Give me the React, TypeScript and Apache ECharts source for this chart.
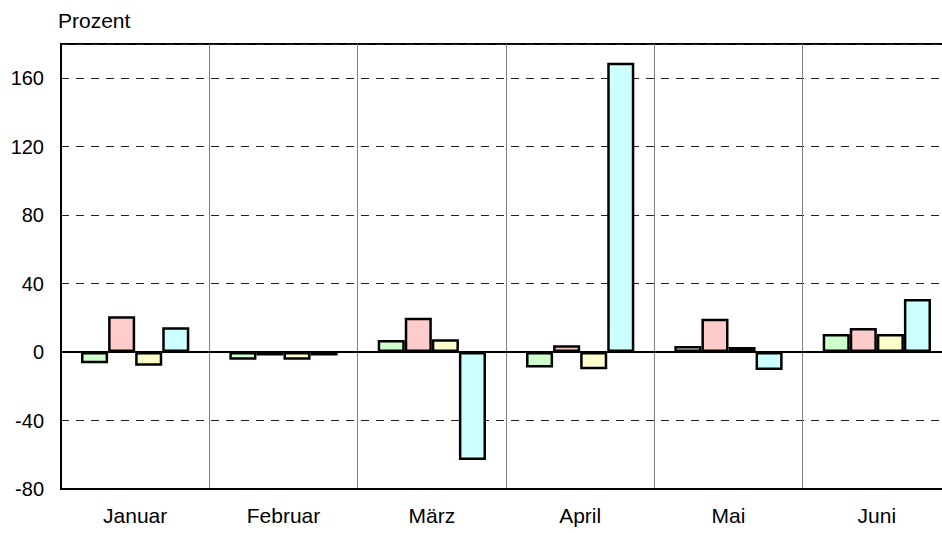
import React, { useEffect, useRef } from "react";
import * as echarts from "echarts";

const categories = ["Januar", "Februar", "März", "April", "Mai", "Juni"];
const seriesGreen = [-6.5, -4.5, 7, -9, 3.5, 10.5];
const seriesPink = [21, -2, 20, 4, 19.5, 14];
const seriesYellow = [-8, -4.5, 7.5, -10, 3, 10.5];
const seriesCyan = [14.5, -2, -63, 169, -10.5, 31];
const yTicks = { min: -80, max: 180, interval: 40 };

const colors = ["#CCFFCC", "#FFCCCC", "#FFFFCC", "#CCFFFF"];

export default function App() {
  const ref = useRef<HTMLDivElement>(null);
  useEffect(() => {
    if (!ref.current) return;
    const chart = echarts.init(ref.current, undefined, { renderer: "svg" });
    const font = "Liberation Sans, Arial, sans-serif";
    const mk = (data: number[], i: number, withZero: boolean) => ({
      type: "bar",
      data,
      barGap: "0%",
      barCategoryGap: "27%",
      itemStyle: { color: colors[i], borderColor: "#000", borderWidth: 2.5 },
      markLine: withZero
        ? {
            silent: true,
            symbol: "none",
            label: { show: false },
            lineStyle: { color: "#000", width: 2, type: "solid" },
            data: [{ yAxis: 0 }],
          }
        : undefined,
    });
    chart.setOption({
      animation: false,
      backgroundColor: "#fff",
      title: {
        text: "Prozent",
        left: 53,
        top: 5,
        textStyle: { fontSize: 21, fontWeight: "normal", color: "#000", fontFamily: font },
      },
      grid: {
        left: 61,
        right: 9,
        top: 44,
        bottom: 44,
        show: true,
        borderColor: "#000",
        borderWidth: 2,
      },
      xAxis: {
        type: "category",
        data: categories,
        axisLine: { show: true, onZero: false, lineStyle: { color: "#000", width: 2 } },
        axisTick: { show: false },
        axisLabel: { fontSize: 21, color: "#000", margin: 16, fontFamily: font },
        splitLine: { show: true, lineStyle: { color: "#808080", width: 1 } },
      },
      yAxis: {
        type: "value",
        min: yTicks.min,
        max: yTicks.max,
        interval: yTicks.interval,
        axisLine: { show: true, lineStyle: { color: "#000", width: 2 } },
        axisTick: { show: false },
        axisLabel: { fontSize: 20, color: "#000", margin: 17, fontFamily: font, showMaxLabel: false },
        splitLine: { show: true, lineStyle: { color: "#222", width: 1, type: [8, 7] } },
      },
      series: [
        mk(seriesGreen, 0, false),
        mk(seriesPink, 1, false),
        mk(seriesYellow, 2, false),
        mk(seriesCyan, 3, true),
      ],
    });
    return () => chart.dispose();
  }, []);
  return (
    <div style={{ position: "absolute", left: 0, top: 0, width: 942, height: 533, overflow: "hidden" }}>
      <div ref={ref} style={{ width: 960, height: 533 }} />
    </div>
  );
}
